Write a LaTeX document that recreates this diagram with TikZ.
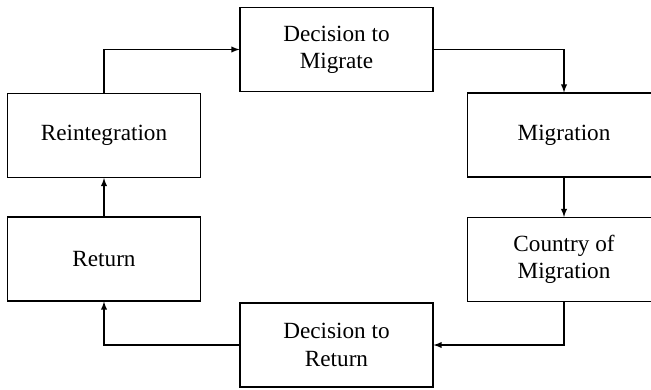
\documentclass[tikz,border=0pt]{standalone}
\usepackage{fontspec}
\setmainfont{Liberation Serif}
\usetikzlibrary{arrows}

\begin{document}
\begin{tikzpicture}[x=0.02cm, y=-0.02cm, >=latex, line width=0.6pt,
		stage/.style={draw, minimum width=3.86cm, minimum height=1.68cm, align=center, inner sep=0pt,
			font=\fontsize{13.2}{15.5}\selectfont}]
		\clip (0,0) rectangle (651,389);
		\node[stage] (dtm) at (336.5,49.5) {Decision to\\Migrate};
		\node[stage] (reint) at (104,135.5) {Reintegration};
		\node[stage] (migr) at (564,135) {Migration};
		\node[stage] (ret) at (104,259) {Return};
		\node[stage] (cntry) at (564,259.5) {Country of\\Migration};
		\node[stage] (dtr) at (336.5,345) {Decision to\\Return};
		\draw[->] (reint) |- (dtm);
		\draw[->] (dtm) -| (migr);
		\draw[->] (migr) -- (cntry);
		\draw[->] (cntry) |- (dtr);
		\draw[->] (dtr) -| (ret);
		\draw[->] (ret) -- (reint);
	\end{tikzpicture}
\end{document}
